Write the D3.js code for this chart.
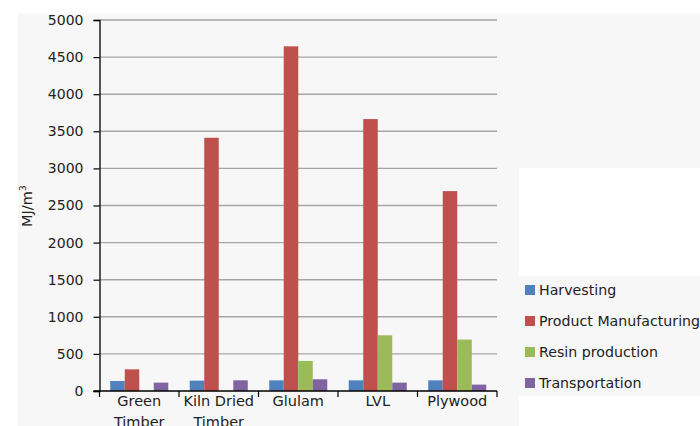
<!DOCTYPE html>
<html>
<head>
<meta charset="utf-8">
<script src="https://cdn.jsdelivr.net/npm/d3@7"></script>
<style>
  body { margin: 0; background: #fff; }
  svg { display: block; font-family: "DejaVu Sans", sans-serif; }
</style>
</head>
<body>
<svg id="chart" width="700" height="426"></svg>
<script>
let categories = [['Green', 'Timber'], ['Kiln Dried', 'Timber'], ['Glulam'], ['LVL'], ['Plywood']];
let seriesNames = ['Harvesting', 'Product Manufacturing', 'Resin production', 'Transportation'];
let colors = ['#4f81bd', '#c0504d', '#9bbb59', '#8064a2'];

let harvesting = [135, 140, 144, 144, 144];
let manufacturing = [292, 3413, 4645, 3665, 2694];
let resin = [0, 0, 405, 751, 693];
let transport = [113, 144, 158, 113, 86];
let yTicks = [0, 500, 1000, 1500, 2000, 2500, 3000, 3500, 4000, 4500, 5000];

let series = [harvesting, manufacturing, resin, transport];

let svg = d3.select('#chart');

// odd grey background left over from the crop
let bg = svg.append('g').attr('fill', '#f7f7f7');
bg.append('rect').attr('x', 18).attr('y', 14).attr('width', 682).attr('height', 154);
bg.append('rect').attr('x', 18).attr('y', 14).attr('width', 501).attr('height', 412);
bg.append('rect').attr('x', 519).attr('y', 276).attr('width', 181).attr('height', 120);

let plotLeft = 99.5, plotRight = 497, plotTop = 20, plotBottom = 391;

let y = d3.scaleLinear().domain([0, 5000]).range([plotBottom, plotTop]);
let x = d3.scaleBand().domain(categories.map((c, i) => i)).range([plotLeft, plotRight]);
let xs = d3.scaleBand().domain(seriesNames).range([0, x.bandwidth()]).paddingOuter(0.74);

// gridlines
svg.append('g')
    .selectAll('line')
    .data(yTicks.filter(t => t > 0))
    .enter().append('line')
    .attr('x1', plotLeft).attr('x2', plotRight)
    .attr('y1', d => y(d)).attr('y2', d => y(d))
    .attr('stroke', '#a6a6a6')
    .attr('stroke-width', 1.4);

// bars
series.forEach((vals, s) => {
    svg.append('g')
        .attr('fill', colors[s])
        .selectAll('rect')
        .data(vals)
        .enter().append('rect')
        .attr('x', (d, i) => x(i) + xs(seriesNames[s]))
        .attr('width', xs.bandwidth())
        .attr('y', d => y(d))
        .attr('height', d => plotBottom - y(d));
});

// y axis
let yAxis = svg.append('g')
    .attr('transform', `translate(${plotLeft},0)`)
    .call(d3.axisLeft(y).tickValues(yTicks).tickSize(6).tickPadding(10).tickFormat(d3.format('d')));
yAxis.select('.domain').attr('stroke', '#000').attr('stroke-width', 1.3);
yAxis.selectAll('.tick line').attr('stroke', '#000').attr('stroke-width', 1.2);
yAxis.selectAll('text').attr('font-size', 14).attr('fill', '#222')
    .attr('font-family', '"DejaVu Sans", sans-serif');

// x axis
let xAxis = svg.append('g').attr('transform', `translate(0,${plotBottom})`);
xAxis.append('line')
    .attr('x1', plotLeft - 6).attr('x2', plotRight)
    .attr('stroke', '#000').attr('stroke-width', 1.3);
xAxis.selectAll('line.sep')
    .data(categories.map((c, i) => i).concat([categories.length]))
    .enter().append('line')
    .attr('class', 'sep')
    .attr('x1', i => i < categories.length ? x(i) : plotRight)
    .attr('x2', i => i < categories.length ? x(i) : plotRight)
    .attr('y1', 0).attr('y2', 6)
    .attr('stroke', '#000').attr('stroke-width', 1.2);
let labels = xAxis.selectAll('text.cat')
    .data(categories)
    .enter().append('text')
    .attr('class', 'cat')
    .attr('text-anchor', 'middle')
    .attr('font-size', 14.5)
    .attr('fill', '#222');
labels.selectAll('tspan')
    .data((d, i) => d.map(line => ({ line, i })))
    .enter().append('tspan')
    .attr('x', d => x(d.i) + x.bandwidth() / 2)
    .attr('y', (d, j) => 15 + j * 21)
    .text(d => d.line);

// y label
svg.append('text')
    .attr('transform', 'translate(32,206) rotate(-90)')
    .attr('text-anchor', 'middle')
    .attr('font-size', 14.5)
    .attr('fill', '#222')
    .text('MJ/m')
    .append('tspan')
    .attr('font-size', 9.5)
    .attr('dy', -6)
    .text('3');

// legend
let legend = svg.append('g')
    .selectAll('g')
    .data(seriesNames)
    .enter().append('g')
    .attr('transform', (d, i) => `translate(525,${290 + i * 31})`);
legend.append('rect')
    .attr('x', 0).attr('y', -5)
    .attr('width', 10).attr('height', 10)
    .attr('fill', (d, i) => colors[i]);
legend.append('text')
    .attr('x', 14).attr('y', 5)
    .attr('font-size', 14.2)
    .attr('fill', '#222')
    .text(d => d);
</script>
</body>
</html>
